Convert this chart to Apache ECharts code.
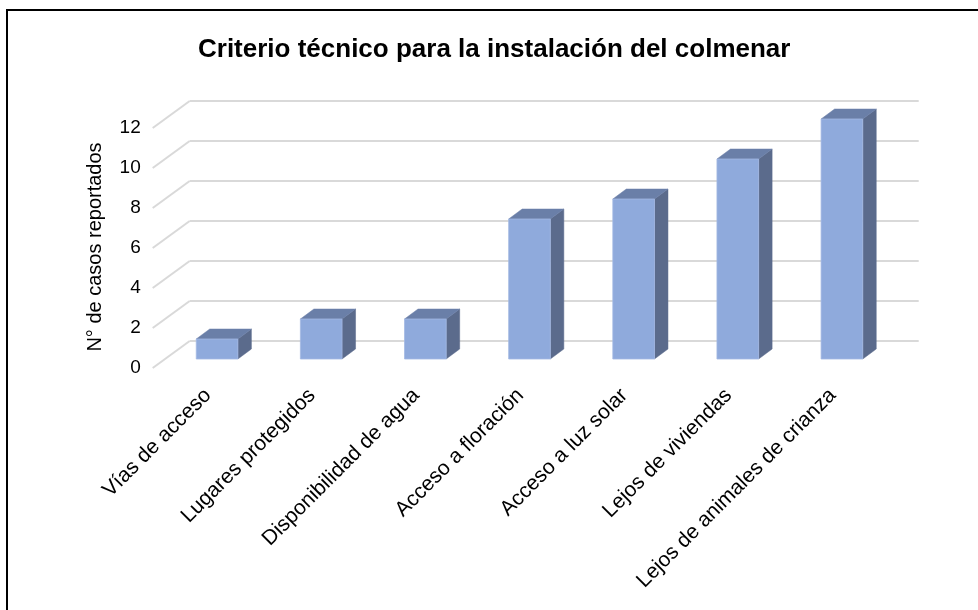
<!DOCTYPE html>
<html>
<head>
<meta charset="utf-8">
<script src="https://cdn.jsdelivr.net/npm/echarts@6/dist/echarts.min.js"></script>
<style>html,body{margin:0;padding:0;background:#fff;}#c{width:978px;height:610px;}</style>
</head>
<body>
<div id="c"></div>
<script>
var categories = ['Vías de acceso', 'Lugares protegidos', 'Disponibilidad de agua', 'Acceso a floración', 'Acceso a luz solar', 'Lejos de viviendas', 'Lejos de animales de crianza'];
var values = [1, 2, 2, 7, 8, 10, 12];
var yTicks = [0, 2, 4, 6, 8, 10, 12];
var titleText = 'Criterio técnico para la instalación del colmenar';
var yTitle = 'N° de casos reportados';

var BACK = [24.7, -18];   // face plane -> back wall
var FRONT = [-12.3, 9];   // face plane -> front floor edge
var DEPTH = [13.5, -10];  // bar depth
var FONT = '"Liberation Sans", Arial, sans-serif';

var chart = echarts.init(document.getElementById('c'), null, {renderer: 'canvas'});
chart.setOption({
  animation: false,
  backgroundColor: '#fff',
  title: {
    text: titleText, left: 193, top: 32,
    textStyle: {fontFamily: FONT, fontSize: 26, fontWeight: 'bold', color: '#000'}
  },
  grid: [
    {left: 165, right: 84, top: 119, height: 240},
    {left: 152.7, right: 96.3, top: 128, height: 240}
  ],
  xAxis: [
    {type: 'category', data: categories, gridIndex: 0,
     axisLine: {show: false}, axisTick: {show: false},
     axisLabel: {rotate: 45, margin: 24, padding: [0, 13, 0, 0], interval: 0, fontFamily: FONT, fontSize: 21, color: '#000'}},
    {type: 'category', data: categories, gridIndex: 1, show: false}
  ],
  yAxis: [
    {type: 'value', min: 0, max: 12, interval: 2, gridIndex: 0, show: false, splitLine: {show: false}},
    {type: 'value', min: 0, max: 12, interval: 2, gridIndex: 1,
     axisLine: {show: false}, axisTick: {show: false}, splitLine: {show: false},
     axisLabel: {margin: 12, fontFamily: FONT, fontSize: 19, color: '#000'}}
  ],
  graphic: [
    {type: 'line', shape: {x1: 6, y1: 10, x2: 978, y2: 10}, style: {stroke: '#000', lineWidth: 2}},
    {type: 'line', shape: {x1: 7, y1: 10, x2: 7, y2: 610}, style: {stroke: '#000', lineWidth: 2}},
    {type: 'text', x: 95, y: 247, rotation: Math.PI / 2,
     style: {text: yTitle, fontFamily: FONT, fontSize: 20, fill: '#000', textAlign: 'center', textVerticalAlign: 'middle'}}
  ],
  series: [
    {
      type: 'custom', xAxisIndex: 0, yAxisIndex: 0, z: 1,
      data: yTicks.map(function (t) { return [0, t]; }),
      renderItem: function (params, api) {
        var cs = params.coordSys;
        var y = api.coord([0, api.value(1)])[1];
        var bl = [cs.x + BACK[0], y + BACK[1]];
        var br = [cs.x + cs.width + BACK[0], y + BACK[1]];
        var fl = [cs.x + FRONT[0], y + FRONT[1]];
        var st = {stroke: '#d9d9d9', lineWidth: 2, fill: null};
        return {type: 'group', children: [
          {type: 'line', shape: {x1: bl[0], y1: bl[1], x2: br[0], y2: br[1]}, style: st},
          {type: 'line', shape: {x1: bl[0], y1: bl[1], x2: fl[0], y2: fl[1]}, style: st}
        ]};
      }
    },
    {
      type: 'custom', xAxisIndex: 0, yAxisIndex: 0, z: 2,
      data: values.map(function (v, i) { return [i, v]; }),
      renderItem: function (params, api) {
        var p0 = api.coord([api.value(0), 0]);
        var p1 = api.coord([api.value(0), api.value(1)]);
        var w = api.size([1, 0])[0] * 0.4;
        var x0 = p0[0] - w / 2, x1 = p0[0] + w / 2;
        var yb = p0[1], yt = p1[1];
        var dx = DEPTH[0], dy = DEPTH[1];
        return {type: 'group', children: [
          {type: 'polygon', shape: {points: [[x1, yb], [x1 + dx, yb + dy], [x1 + dx, yt + dy], [x1, yt]]},
           style: {fill: '#5b6b8c', stroke: '#5b6b8c', lineWidth: 0.5}},
          {type: 'polygon', shape: {points: [[x0, yt], [x1, yt], [x1 + dx, yt + dy], [x0 + dx, yt + dy]]},
           style: {fill: '#6a7fa8', stroke: '#6a7fa8', lineWidth: 0.5}},
          {type: 'rect', shape: {x: x0, y: yt, width: w, height: yb - yt},
           style: {fill: '#8faadc', stroke: '#a3b9e3', lineWidth: 0.8}}
        ]};
      }
    }
  ]
});
</script>
</body>
</html>
